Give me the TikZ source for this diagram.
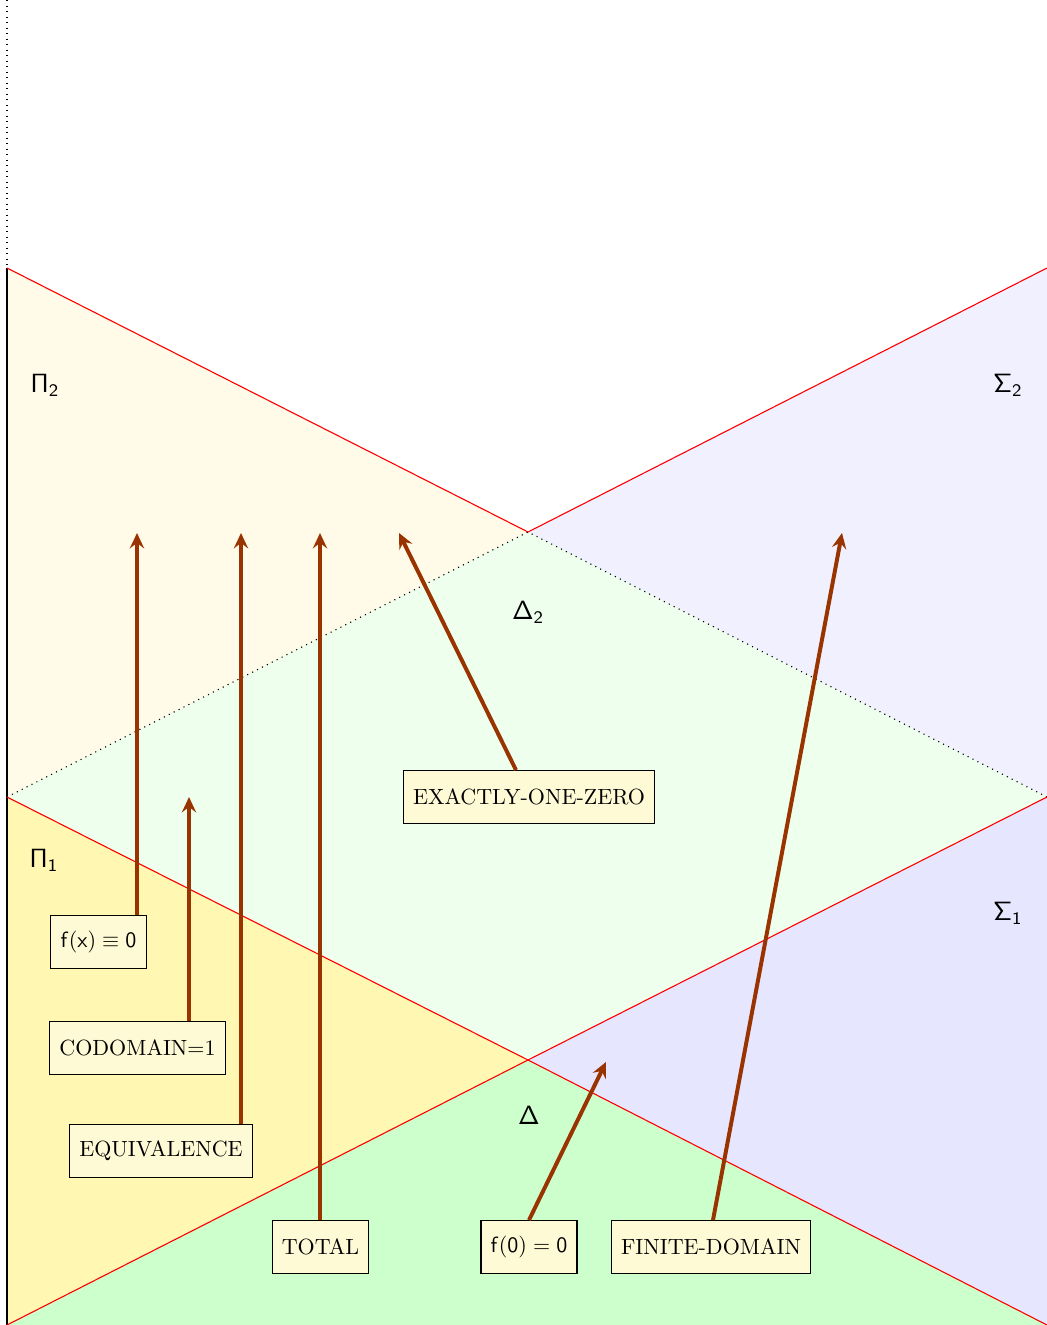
\documentclass[tikz,border=0pt]{standalone}
\usetikzlibrary{arrows.meta}
\definecolor{pitwo}{RGB}{255,251,232}
\definecolor{sigtwo}{RGB}{240,240,255}
\definecolor{deltwo}{RGB}{238,255,238}
\definecolor{pione}{RGB}{255,247,178}
\definecolor{sigone}{RGB}{230,230,255}
\definecolor{delone}{RGB}{204,255,204}
\definecolor{boxfill}{RGB}{255,250,214}
\definecolor{arr}{RGB}{153,51,0}
\begin{document}
\begin{tikzpicture}[x=0.4545pt,y=-0.4545pt,
  lab/.style={font=\large},
  box/.style={draw,fill=boxfill,minimum height=24pt,inner xsep=4.4pt,line width=0.5pt},
  arrowline/.style={draw=arr,line width=1.8pt,-{Stealth[length=7pt,width=6.5pt,inset=2.5pt]}},
  sep/.style={red,line width=0.5pt},
  dots/.style={dotted,line width=0.5pt}]
\useasboundingbox (0,0) rectangle (1047,1325);
% corner points
\coordinate (T) at (7,0);
\coordinate (A) at (7,268);
\coordinate (B) at (528,532);
\coordinate (C) at (1047,268);
\coordinate (D) at (7,797);
\coordinate (E) at (1047,797);
\coordinate (F) at (528,1060);
\coordinate (G) at (7,1325);
\coordinate (H) at (1047,1325);
% regions
\fill[pitwo] (A)--(B)--(D)--cycle;
\fill[sigtwo] (C)--(B)--(E)--cycle;
\fill[deltwo] (D)--(B)--(E)--(F)--cycle;
\fill[pione] (D)--(F)--(G)--cycle;
\fill[sigone] (E)--(F)--(H)--cycle;
\fill[delone] (G)--(F)--(H)--cycle;
% boundaries
\draw[dots] (T)--(A);
\draw[line width=0.7pt] (A)--(G);
\draw[sep] (A)--(B)--(C);
\draw[dots] (D)--(B)--(E);
\draw[sep] (D)--(F)--(H);
\draw[sep] (G)--(F)--(E);
% labels
\node[lab] (p2) at (45,385) {$\mathsf{\Pi_2}$};
\node[lab] (s2) at (1008,385) {$\mathsf{\Sigma_2}$};
\node[lab] (d2) at (528,612) {$\mathsf{\Delta_2}$};
\node[lab] (p1) at (44,860) {$\mathsf{\Pi_1}$};
\node[lab] (s1) at (1008,913) {$\mathsf{\Sigma_1}$};
\node[lab] (d0) at (529,1115) {$\mathsf{\Delta}$};
% boxes
\node[box] (fx) at (98.5,942) {$\mathsf{f(x)}\equiv\mathsf{0}$};
\node[box] (cod) at (137.5,1048) {CODOMAIN=1};
\node[box] (equ) at (161,1151) {EQUIVALENCE};
\node[box] (exa) at (529,797) {EXACTLY-ONE-ZERO};
\node[box] (tot) at (320.5,1247) {TOTAL};
\node[box] (f0) at (529,1247) {$\mathsf{f(0)}=\mathsf{0}$};
\node[box] (fin) at (711,1247) {FINITE-DOMAIN};
% arrow targets and start abscissae
\coordinate (t1) at (137,533);
\coordinate (t2) at (189,797);
\coordinate (t3) at (241,533);
\coordinate (t4) at (320,533);
\coordinate (t5) at (399,533);
\coordinate (t6) at (606,1062);
\coordinate (t7) at (842,533);
\coordinate (s5) at (516,0);
\coordinate (s6) at (529,0);
\coordinate (s7) at (713,0);
% arrows
\draw[arrowline] (fx.north -| t1) -- (t1);
\draw[arrowline] (cod.north -| t2) -- (t2);
\draw[arrowline] (equ.north -| t3) -- (t3);
\draw[arrowline] (tot.north -| t4) -- (t4);
\draw[arrowline] (exa.north -| s5) -- (t5);
\draw[arrowline] (f0.north -| s6) -- (t6);
\draw[arrowline] (fin.north -| s7) -- (t7);
\end{tikzpicture}
\end{document}
